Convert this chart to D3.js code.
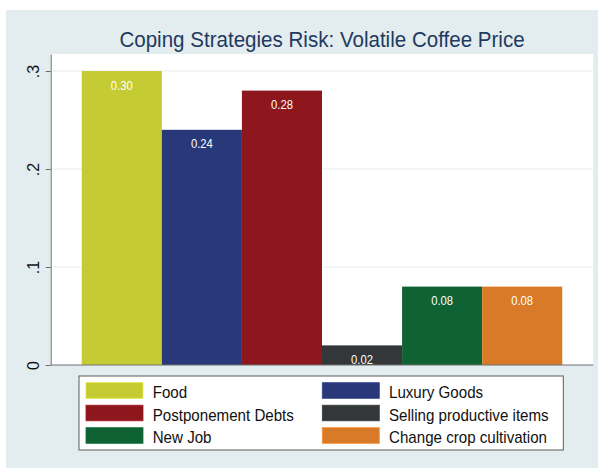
<!DOCTYPE html>
<html>
<head>
<meta charset="utf-8">
<script src="https://cdn.jsdelivr.net/npm/d3@7"></script>
<style>
  html, body { margin: 0; padding: 0; background: #ffffff; }
  svg { display: block; font-family: "Liberation Sans", Arial, Helvetica, sans-serif; }
</style>
</head>
<body>
<svg id="chart" width="600" height="468"></svg>
<script>
// ---- data ----
const categories = ["Food", "Luxury Goods", "Postponement Debts", "Selling productive items", "New Job", "Change crop cultivation"];
const values = [0.30, 0.24, 0.28, 0.02, 0.08, 0.08];
const barColors = ["#C4CB33", "#283879", "#8D171D", "#333739", "#0F6233", "#D97A28"];
const yTickValues = [0, 0.1, 0.2, 0.3];
const yTickLabels = ["0", ".1", ".2", ".3"];
const title = "Coping Strategies Risk: Volatile Coffee Price";

// ---- layout ----
const W = 600, H = 468;
const plotLeft = 50.7, plotRight = 593.3, plotTop = 54, plotBottom = 365;

const svg = d3.select("#chart");

// outer background
svg.append("rect").attr("x", 6).attr("y", 10).attr("width", 592).attr("height", H - 10)
  .attr("fill", "#E3ECEE");

// plot region
svg.append("rect").attr("x", plotLeft).attr("y", plotTop)
  .attr("width", plotRight - plotLeft).attr("height", plotBottom - plotTop)
  .attr("fill", "#ffffff");

const x = d3.scaleBand().domain(categories).range([plotLeft, plotRight])
  .paddingInner(0).paddingOuter(0.388);
const yTopVal = 0.3 * (plotBottom - plotTop) / (plotBottom - 71);
const y = d3.scaleLinear().domain([0, yTopVal]).range([plotBottom, plotTop]);

// gridlines
svg.append("g").selectAll("line").data(yTickValues.filter(d => d > 0)).join("line")
  .attr("x1", plotLeft).attr("x2", plotRight)
  .attr("y1", d => y(d)).attr("y2", d => y(d))
  .attr("stroke", "#E4EDEF").attr("stroke-width", 1);

// bars
svg.append("g").selectAll("rect").data(categories).join("rect")
  .attr("x", d => x(d))
  .attr("y", (d, i) => y(values[i]))
  .attr("width", x.bandwidth())
  .attr("height", (d, i) => y(0) - y(values[i]))
  .attr("fill", (d, i) => barColors[i]);

// value labels
svg.append("g").selectAll("text").data(categories).join("text")
  .attr("transform", (d, i) => `translate(${x(d) + x.bandwidth() / 2},${y(values[i]) + 18.5}) scale(0.9,1)`)
  .attr("text-anchor", "middle")
  .attr("font-size", 12.5)
  .attr("fill", "#ffffff")
  .text((d, i) => values[i].toFixed(2));

// x baseline
svg.append("line").attr("x1", plotLeft).attr("x2", plotRight)
  .attr("y1", plotBottom).attr("y2", plotBottom)
  .attr("stroke", "#6E6E6E").attr("stroke-width", 1);

// y axis
const yAxis = d3.axisLeft(y).tickValues(yTickValues)
  .tickFormat((d, i) => yTickLabels[i]).tickSize(5).tickSizeOuter(0);
const gy = svg.append("g").attr("transform", `translate(${plotLeft},0)`).call(yAxis);
gy.select(".domain").attr("stroke", "#6E6E6E");
gy.selectAll(".tick line").attr("stroke", "#6E6E6E");
gy.selectAll(".tick text")
  .attr("transform", "rotate(-90)")
  .attr("x", 0).attr("y", -11.5).attr("dy", 0)
  .attr("text-anchor", "middle")
  .attr("font-size", 16)
  .attr("font-family", "\"Liberation Sans\", Arial, sans-serif")
  .attr("fill", "#111111");

// title
svg.append("text")
  .attr("transform", `translate(${(plotLeft + plotRight) / 2},47) scale(0.935,1)`)
  .attr("text-anchor", "middle")
  .attr("font-size", 22)
  .attr("fill", "#1F3A60")
  .text(title);

// legend
const legX = 79, legY = 376, legW = 484.3, legH = 74;
svg.append("rect").attr("x", legX).attr("y", legY).attr("width", legW).attr("height", legH)
  .attr("fill", "#ffffff").attr("stroke", "#5A5A5A").attr("stroke-width", 1);
const colX = [86, 322.3];
const rowY = [382.7, 405.2, 427.7];
const lg = svg.append("g").selectAll("g").data(categories).join("g")
  .attr("transform", (d, i) => `translate(${colX[i % 2]},${rowY[Math.floor(i / 2)]})`);
lg.append("rect").attr("width", 57).attr("height", 15.6)
  .attr("fill", (d, i) => barColors[i])
  .attr("stroke", (d, i) => d3.color(barColors[i]).brighter(0.4))
  .attr("stroke-width", 0.8);
lg.append("text")
  .attr("transform", "translate(66.7,15.6) scale(0.89,1)")
  .attr("font-size", 17)
  .attr("fill", "#111111")
  .text(d => d);
</script>
</body>
</html>
